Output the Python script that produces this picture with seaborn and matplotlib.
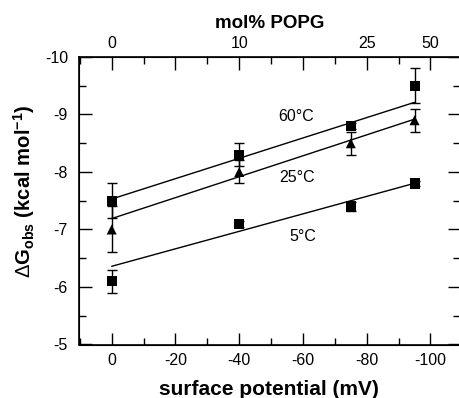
import numpy as np
import pandas as pd
import matplotlib as mpl
mpl.use("Agg")
import matplotlib.pyplot as plt
from matplotlib.ticker import MultipleLocator
import seaborn as sns

sns.set_style("ticks")
plt.rcParams["font.family"] = ["Liberation Sans", "DejaVu Sans"]
plt.rcParams["mathtext.fontset"] = "custom"
plt.rcParams["mathtext.rm"] = "Liberation Sans"
plt.rcParams["mathtext.bf"] = "Liberation Sans:bold"
plt.rcParams["axes.unicode_minus"] = False
plt.rcParams["axes.edgecolor"] = "black"
plt.rcParams["axes.labelcolor"] = "black"
plt.rcParams["text.color"] = "black"
plt.rcParams["xtick.color"] = "black"
plt.rcParams["ytick.color"] = "black"

# data
potential = [0, -40, -75, -95]
temps = ["60°C", "25°C", "5°C"]
dg_60 = [-7.5, -8.3, -8.8, -9.5]
err_60 = [0.3, 0.2, 0.05, 0.3]
dg_25 = [-7.0, -8.0, -8.5, -8.9]
err_25 = [0.4, 0.2, 0.2, 0.2]
dg_5 = [-6.1, -7.1, -7.4, -7.8]
err_5 = [0.2, 0.05, 0.07, 0.05]
fit_intercept = [-7.53, -7.19, -6.36]
fit_slope = [0.0177, 0.0182, 0.0152]
fit_range = [0, -95]
top_ticks = [0, -20, -40, -60, -80, -100]
top_labels = ["0", "", "10", "", "25", "50"]

pts = pd.DataFrame({
    "potential": potential * 3,
    "dG": dg_60 + dg_25 + dg_5,
    "err": err_60 + err_25 + err_5,
    "temp": [t for t in temps for _ in potential],
})
fits = pd.DataFrame({
    "potential": fit_range * 3,
    "dG": [b + m * x for b, m in zip(fit_intercept, fit_slope) for x in fit_range],
    "temp": [t for t in temps for _ in fit_range],
})

fig = plt.figure(figsize=(4.6, 3.98), dpi=100)
ax = fig.add_axes([79 / 460, 1 - 344.5 / 398, 380.5 / 460, 287.5 / 398])

sns.lineplot(data=fits, x="potential", y="dG", units="temp", estimator=None,
             color="black", lw=1, ax=ax, legend=False)
ax.errorbar(pts["potential"], pts["dG"], yerr=pts["err"], fmt="none",
            ecolor="black", elinewidth=1, capsize=3.6, capthick=1)
sns.scatterplot(data=pts, x="potential", y="dG", style="temp",
                markers={"60°C": "s", "25°C": "^", "5°C": "s"},
                color="black", s=52, linewidth=0, ax=ax, legend=False)

ax.text(-58, -8.96, "60°C", ha="center", va="center", fontsize=11.5)
ax.text(-58, -7.9, "25°C", ha="center", va="center", fontsize=11.5)
ax.text(-60, -6.88, "5°C", ha="center", va="center", fontsize=11.5)

ax.set_xlim(10.25, -109.1)
ax.set_ylim(-5, -10)
ax.set_xticks([0, -20, -40, -60, -80, -100])
ax.xaxis.set_minor_locator(MultipleLocator(10))
ax.set_yticks([-5, -6, -7, -8, -9, -10])
ax.yaxis.set_minor_locator(MultipleLocator(0.5))
ax.tick_params(which="both", direction="in", right=True, width=1, labelsize=11.5)
ax.tick_params(which="major", length=9)
ax.tick_params(which="minor", length=5)
ax.tick_params(axis="x", pad=6)
ax.tick_params(axis="y", pad=8)
for s in ax.spines.values():
    s.set_linewidth(1.2)

ax.set_xlabel("surface potential (mV)", fontsize=15, fontweight="bold", labelpad=9)
ax.set_ylabel(r"$\Delta$G$_{\mathbf{obs}}$ (kcal mol$^{\mathbf{-1}}$)",
              fontsize=14.6, fontweight="bold", va="center")
ax.yaxis.set_label_coords((24 - 79) / 380.5, (344.5 - 191.5) / 287.5)

ax2 = ax.twiny()
ax2.set_xlim(ax.get_xlim())
ax2.set_xticks(top_ticks)
ax2.set_xticklabels(top_labels)
ax2.xaxis.set_minor_locator(MultipleLocator(10))
ax2.tick_params(which="both", direction="in", width=1, labelsize=11.5, pad=4)
ax2.tick_params(which="major", length=9)
ax2.tick_params(which="minor", length=5)
ax2.set_xlabel("mol% POPG", fontsize=13.5, fontweight="bold", labelpad=6)

fig.savefig("out.png", dpi=100)
